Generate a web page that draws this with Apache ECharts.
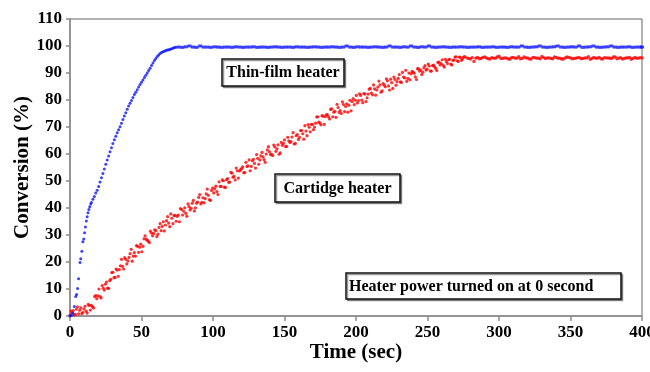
<!DOCTYPE html>
<html>
<head>
<meta charset="utf-8">
<script src="https://cdn.jsdelivr.net/npm/echarts@6/dist/echarts.min.js"></script>
<style>
  html, body { margin: 0; padding: 0; background: #fff; }
  #chart { width: 650px; height: 372px; }
</style>
</head>
<body>
<div id="chart"></div>
<script>
// thin-film heater, [time s, conversion %]
const blueData = [
  [0,0],[1,0.3],[2,1.0],[3,3.5],[4,7.2],[4.6,8.0],[5.3,10.2],[6,13.8],[7,19.8],[7.5,21.2],
  [8.3,24.0],[9,27.5],[9.6,28.5],[10.2,30.8],[10.8,33.0],[11.4,35.2],[12,36.8],[12.6,38.2],
  [13.2,39.4],[13.8,40.5],[14.5,41.5],
  [15,42.0],[16,43.2],[17,44.3],[18,45.6],[19,46.6],[20,48.0],[21,49.6],[22,51.2],[23,52.8],
  [24,54.4],[25,56.2],[26,57.8],[27,59.3],[28,60.8],[29,62.3],[30,63.9],[31,65.3],[32,66.6],
  [33,67.9],[34,69.0],[35,70.1],[36,71.4],[37,72.8],[38,74.1],[39,75.3],[40,76.6],[41,77.8],
  [42,78.8],[43,79.8],[44,80.9],[45,82.0],[46,82.9],[47,83.8],[48,84.8],[49,85.7],[50,86.6],
  [51,87.4],[52,88.3],[53,89.2],[54,90.0],[55,90.9],[56,91.8],[57,92.8],[58,93.7],[59,94.6],
  [60,95.4],[61,96.1],[62,96.7],[63,97.2],[64,97.6],[65,97.9],[66,98.1],[67,98.3],[68,98.5],
  [69,98.6],[70,98.8],[71,99.0],[72,99.2],[73,99.4],[74,99.5],
  [76,99.6],[78.5,99.5],[81,99.7],[83.5,100.0],[86,99.6],[88.5,99.5],[91,100.0],[93.5,99.6],
  [96,99.6],[98.5,99.5],[101,99.7],[103.5,99.6],[106,99.5],[108.5,99.6],[111,99.6],[113.5,99.5],
  [116,99.7],[118.5,99.6],[121,99.5],[123.5,99.6],[126,99.6],[128.5,99.7],[131,99.5],[133.5,99.6],
  [136,99.6],[138.5,99.5],[141,99.6],[143.5,99.7],[146,99.6],[148.5,99.5],[151,99.6],[153.5,99.6],
  [156,99.5],[158.5,99.7],[161,99.6],[163.5,99.6],[166,99.5],[168.5,99.6],[171,99.7],[173.5,99.6],
  [176,99.5],[178.5,99.6],[181,99.6],[183.5,99.7],[186,99.6],[188.5,99.5],[191,99.6],[193.5,100.0],
  [196,99.6],[198.5,99.5],[201,99.7],[203.5,99.6],[206,99.6],[208.5,99.5],[211,99.6],[213.5,99.7],
  [216,99.6],[218.5,99.5],[221,99.6],[223.5,100.0],[226,99.6],[228.5,99.6],[231,99.5],[233.5,99.7],
  [236,99.6],[238.5,100.0],[241,99.6],[243.5,99.5],[246,99.7],[248.5,99.6],[251,100.0],[253.5,99.6],
  [256,99.5],[258.5,99.6],[261,99.7],[263.5,99.6],[266,99.5],[268.5,99.6],[271,99.6],[273.5,99.7],
  [276,99.6],[278.5,99.5],[281,99.6],[283.5,99.6],[286,99.7],[288.5,99.5],[291,99.6],[293.5,99.6],
  [296,99.7],[298.5,99.5],[301,99.6],[303.5,99.6],[306,99.5],[308.5,99.7],[311,99.6],[313.5,99.6],
  [316,100.0],[318.5,99.6],[321,99.5],[323.5,99.6],[326,99.7],[328.5,100.0],[331,99.6],[333.5,99.5],
  [336,99.6],[338.5,99.7],[341,100.0],[343.5,99.6],[346,99.5],[348.5,99.6],[351,99.7],[353.5,99.6],
  [356,100.0],[358.5,99.5],[361,99.6],[363.5,99.7],[366,100.0],[368.5,99.6],[371,99.5],[373.5,99.6],
  [376,99.7],[378.5,100.0],[381,99.6],[383.5,99.5],[386,99.6],[388.5,99.6],[391,99.7],[393.5,99.5],
  [396,99.6],[398.5,99.6],[400,99.6]
]

// cartridge heater, [time s, conversion %], first sampling pass
const redSamplesA = [
  [0,0.3],[1.5,1.2],[3,0.4],[4.5,2.6],[6,0.8],[7.5,3.0],[9,1.3],[10.5,3.6],[12,1.1],[13.5,3.9],
  [15,3.9],[16.5,3.0],[18,7.6],[19.5,7.5],[21,7.2],[22.5,11.3],[24,9.6],[25.5,12.6],[27,10.2],[28.5,13.6],
  [30,16.2],[31.5,14.3],[33,17.0],[34.5,17.2],[36,21.0],[37.5,17.4],[39,21.0],[40.5,20.4],[42,23.1],[43.5,20.3],
  [45,23.5],[46.5,26.1],[48,23.6],[49.5,26.6],[51,25.8],[52.5,29.7],[54,28.1],[55.5,27.2],[57,30.7],[58.5,30.6],
  [60,31.6],[61.5,30.3],[63,34.2],[64.5,33.2],[66,31.5],[67.5,35.3],[69,34.4],[70.5,37.8],[72,34.2],[73.5,37.3],
  [75,36.9],[76.5,34.9],[78,39.5],[79.5,38.8],[81,38.0],[82.5,41.5],[84,39.3],[85.5,41.8],[87,38.9],[88.5,41.8],
  [90,43.9],[91.5,41.5],[93,43.8],[94.5,43.5],[96,47.0],[97.5,43.1],[99,46.5],[100.5,45.6],[102,48.1],[103.5,45.0],
  [105,48.0],[106.5,50.4],[108,47.7],[109.5,50.5],[111,49.5],[112.5,53.2],[114,51.4],[115.5,50.4],[117,53.8],[118.5,53.7],
  [120,54.6],[121.5,53.1],[123,56.9],[124.5,55.6],[126,53.8],[127.5,57.5],[129,56.5],[130.5,59.8],[132,56.2],[133.5,59.3],
  [135,58.9],[136.5,56.9],[138,61.5],[139.5,60.8],[141,59.9],[142.5,63.3],[144,61.0],[145.5,63.4],[147,60.4],[148.5,63.2],
  [150,65.2],[151.5,62.8],[153,64.9],[154.5,64.6],[156,67.9],[157.5,63.9],[159,67.2],[160.5,66.2],[162,68.7],[163.5,65.5],
  [165,68.5],[166.5,70.9],[168,68.2],[169.5,71.0],[171,70.0],[172.5,73.7],[174,71.8],[175.5,70.8],[177,74.0],[178.5,73.8],
  [180,74.6],[181.5,73.0],[183,76.7],[184.5,75.5],[186,73.6],[187.5,77.2],[189,76.1],[190.5,79.3],[192,75.7],[193.5,78.6],
  [195,78.1],[196.5,76.0],[198,80.5],[199.5,79.9],[201,78.9],[202.5,82.3],[204,80.0],[205.5,82.4],[207,79.4],[208.5,82.2],
  [210,84.3],[211.5,81.9],[213,84.1],[214.5,83.7],[216,87.0],[217.5,82.9],[219,86.1],[220.5,84.9],[222,87.1],[223.5,83.7],
  [225,86.4],[226.5,88.5],[228,85.5],[229.5,88.0],[231,86.7],[232.5,90.2],[234,88.2],[235.5,86.9],[237,90.0],[238.5,89.7],
  [240,90.3],[241.5,88.6],[243,91.6],[244.5,90.7],[246,89.4],[247.5,91.9],[249,91.1],[250.5,93.3],[252,90.7],[253.5,92.7],
  [255,92.3],[256.5,90.9],[258,94.0],[259.5,93.5],[261,92.8],[262.5,95.1],[264,93.5],[265.5,95.1],[267,93.0],[268.5,94.8],
  [270,96.0],[271.5,94.3],[273,95.8],[274.5,95.3],[276,96.1],
  [277.5,95.6],[280,95.2],[282.5,94.3],[285,95.8],[287.5,95.4],[290,95.9],[292.5,95.3],[295,95.7],[297.5,95.5],[300,96.2],
  [302.5,95.4],[305,95.6],[307.5,95.1],[310,95.8],[312.5,95.5],[315,95.3],[317.5,95.9],[320,95.6],[322.5,95.2],[325,95.7],
  [327.5,95.5],[330,96.1],[332.5,95.4],[335,95.6],[337.5,95.3],[340,95.8],[342.5,95.5],[345,95.2],[347.5,95.9],[350,95.6],
  [352.5,95.4],[355,95.7],[357.5,95.3],[360,95.6],[362.5,96.0],[365,95.4],[367.5,95.5],[370,95.8],[372.5,95.2],[375,95.6],
  [377.5,95.5],[380,95.9],[382.5,95.3],[385,95.7],[387.5,95.4],[390,95.6],[392.5,95.1],[395,95.8],[397.5,95.5],[400,95.6]
]

// cartridge heater, in-between samples
const redSamplesB = [
  [0.75,1.8],[2.25,2.0],[3.75,0.6],[5.25,3.4],[6.75,2.1],[8.25,0.9],[9.75,2.6],[11.25,1.8],[12.75,4.3],[14.25,2.2],
  [15.75,3.4],[17.25,7.2],[18.75,6.4],[20.25,10.0],[21.75,6.7],[23.25,10.3],[24.75,11.8],[26.25,10.3],[27.75,13.1],[29.25,16.1],
  [30.75,14.2],[32.25,17.4],[33.75,14.7],[35.25,18.6],[36.75,18.4],[38.25,21.6],[39.75,19.3],[41.25,21.7],[42.75,24.7],[44.25,22.2],
  [45.75,22.2],[47.25,25.8],[48.75,25.5],[50.25,23.8],[51.75,28.6],[53.25,28.5],[54.75,27.7],[56.25,31.4],[57.75,29.7],[59.25,31.9],
  [60.75,29.4],[62.25,32.8],[63.75,31.6],[65.25,34.9],[66.75,33.7],[68.25,36.8],[69.75,33.1],[71.25,36.2],[72.75,37.2],[74.25,35.1],
  [75.75,37.4],[77.25,39.8],[78.75,37.4],[80.25,40.1],[81.75,36.9],[83.25,40.5],[84.75,39.9],[86.25,42.8],[87.75,40.1],[89.25,42.2],
  [90.75,45.0],[92.25,42.1],[93.75,41.9],[95.25,45.2],[96.75,44.7],[98.25,42.8],[99.75,47.4],[101.25,47.1],[102.75,46.1],[104.25,49.7],
  [105.75,48.0],[107.25,50.1],[108.75,47.6],[110.25,50.9],[111.75,49.6],[113.25,52.9],[114.75,51.7],[116.25,54.8],[117.75,51.1],[119.25,54.2],
  [120.75,55.2],[122.25,53.1],[123.75,55.4],[125.25,57.8],[126.75,55.4],[128.25,58.0],[129.75,54.8],[131.25,58.4],[132.75,57.8],[134.25,60.6],
  [135.75,57.9],[137.25,60.0],[138.75,62.7],[140.25,59.8],[141.75,59.4],[143.25,62.6],[144.75,61.9],[146.25,59.9],[147.75,64.3],[149.25,63.9],
  [150.75,62.7],[152.25,66.2],[153.75,64.3],[155.25,66.3],[156.75,63.7],[158.25,66.8],[159.75,65.4],[161.25,68.7],[162.75,67.5],[164.25,70.5],
  [165.75,66.8],[167.25,69.9],[168.75,71.0],[170.25,69.0],[171.75,71.4],[173.25,73.8],[174.75,71.5],[176.25,74.2],[177.75,71.0],[179.25,74.5],
  [180.75,73.8],[182.25,76.5],[183.75,73.8],[185.25,75.8],[186.75,78.4],[188.25,75.4],[189.75,75.0],[191.25,78.3],[192.75,77.6],[194.25,75.5],
  [195.75,79.9],[197.25,79.4],[198.75,78.3],[200.25,81.7],[201.75,79.8],[203.25,81.7],[204.75,79.0],[206.25,82.2],[207.75,80.8],[209.25,84.0],
  [210.75,82.6],[212.25,85.6],[213.75,81.8],[215.25,84.8],[216.75,85.6],[218.25,83.4],[219.75,85.5],[221.25,87.8],[222.75,85.2],[224.25,87.7],
  [225.75,84.3],[227.25,87.6],[228.75,86.8],[230.25,89.4],[231.75,86.5],[233.25,88.5],[234.75,91.0],[236.25,88.0],[237.75,87.5],[239.25,90.6],
  [240.75,89.9],[242.25,87.6],[243.75,91.5],[245.25,91.1],[246.75,90.3],[248.25,92.7],[249.75,91.4],[251.25,92.6],[252.75,90.7],[254.25,92.9],
  [255.75,91.7],[257.25,93.9],[258.75,93.0],[260.25,94.9],[261.75,92.2],[263.25,94.3],[264.75,94.9],[266.25,93.3],[267.75,94.7],[269.25,95.9],
  [270.75,94.5],[272.25,95.9],[273.75,94.7],[275.25,95.9],
  [278.75,95.4],[281.25,95.7],[283.75,95.5],[286.25,95.3],[288.75,95.8],[291.25,95.6],[293.75,95.2],[296.25,95.5],[298.75,95.9],[301.25,95.4],
  [303.75,95.6],[306.25,95.3],[308.75,95.7],[311.25,95.5],[313.75,96.0],[316.25,95.4],[318.75,95.6],[321.25,95.2],[323.75,95.8],[326.25,95.5],
  [328.75,95.3],[331.25,95.7],[333.75,95.6],[336.25,95.4],[338.75,95.9],[341.25,95.5],[343.75,95.2],[346.25,95.6],[348.75,95.8],[351.25,95.3],
  [353.75,95.5],[356.25,95.7],[358.75,95.4],[361.25,95.6],[363.75,95.1],[366.25,95.8],[368.75,95.5],[371.25,95.3],[373.75,95.7],[376.25,95.6],
  [378.75,95.4],[381.25,95.9],[383.75,95.5],[386.25,95.2],[388.75,95.6],[391.25,95.8],[393.75,95.4],[396.25,95.5],[398.75,95.7]
]

const xTicks = { min: 0, max: 400, step: 50 }
const yTicks = { min: 0, max: 110, step: 10 }

const serif = 'Liberation Serif'
const axisGray = '#8a8a8a'

// boxed annotations
function noteBox(x, y, w, h, text, align) {
  return {
    type: 'group',
    children: [
      {
        type: 'rect',
        shape: { x: x, y: y, width: w, height: h },
        style: {
          fill: '#fff', stroke: '#111', lineWidth: 1.5,
          shadowColor: 'rgba(0,0,0,0.4)', shadowOffsetX: 1.5, shadowOffsetY: 1.5, shadowBlur: 0
        }
      },
      {
        type: 'text',
        x: align === 'left' ? x + 3 : x + w / 2,
        y: y + h / 2 + 0.5,
        style: {
          text: text,
          font: 'bold 16px "Liberation Serif"',
          fill: '#000',
          align: align === 'left' ? 'left' : 'center',
          verticalAlign: 'middle'
        }
      }
    ]
  }
}

let chart = echarts.init(document.getElementById('chart'))
chart.setOption({
  animation: false,
  backgroundColor: '#fff',
  grid: {
    left: 70, right: 8, top: 19, bottom: 56,
    containLabel: false,
    outerBoundsMode: 'none',
    show: true, borderColor: '#666', borderWidth: 1
  },
  xAxis: {
    type: 'value',
    min: xTicks.min, max: xTicks.max, interval: xTicks.step,
    name: 'Time (sec)',
    nameLocation: 'middle',
    nameGap: 26,
    nameMoveOverlap: false,
    nameTextStyle: { fontFamily: serif, fontWeight: 'bold', fontSize: 21, color: '#000' },
    axisLine: { lineStyle: { color: axisGray, width: 1.5 } },
    axisTick: { show: true, length: 5, lineStyle: { color: axisGray, width: 1.5 } },
    axisLabel: { fontFamily: serif, fontWeight: 'bold', fontSize: 17, color: '#000', margin: 8 },
    splitLine: { show: false }
  },
  yAxis: {
    type: 'value',
    min: yTicks.min, max: yTicks.max, interval: yTicks.step,
    name: 'Conversion (%)',
    nameLocation: 'middle',
    nameRotate: 90,
    nameGap: 37,
    nameMoveOverlap: false,
    nameTextStyle: { fontFamily: serif, fontWeight: 'bold', fontSize: 21, color: '#000' },
    axisLine: { show: true, lineStyle: { color: axisGray, width: 1.5 } },
    axisTick: { show: true, length: 4, lineStyle: { color: axisGray, width: 1.5 } },
    axisLabel: { fontFamily: serif, fontWeight: 'bold', fontSize: 17, color: '#000', margin: 8 },
    splitLine: { show: false }
  },
  series: [
    {
      name: 'Cartidge heater',
      type: 'scatter',
      symbol: 'circle',
      symbolSize: function (v) { return v[0] > 276 ? 3.4 : 3.2 },
      itemStyle: { color: '#ff0000' },
      data: redSamplesA.concat(redSamplesB)
    },
    {
      name: 'Thin-film heater',
      type: 'scatter',
      symbol: function (v) { return v[0] > 75 ? 'rect' : 'circle' },
      symbolSize: function (v) { return v[0] > 75 ? [4, 3] : 3 },
      itemStyle: { color: '#0a14ff' },
      data: blueData
    }
  ],
  graphic: [
    noteBox(222, 59, 122, 27, 'Thin-film heater'),
    noteBox(275, 174, 125, 28, 'Cartidge heater'),
    noteBox(346, 273, 275, 26, 'Heater power turned on at 0 second', 'left')
  ]
})
</script>
</body>
</html>
